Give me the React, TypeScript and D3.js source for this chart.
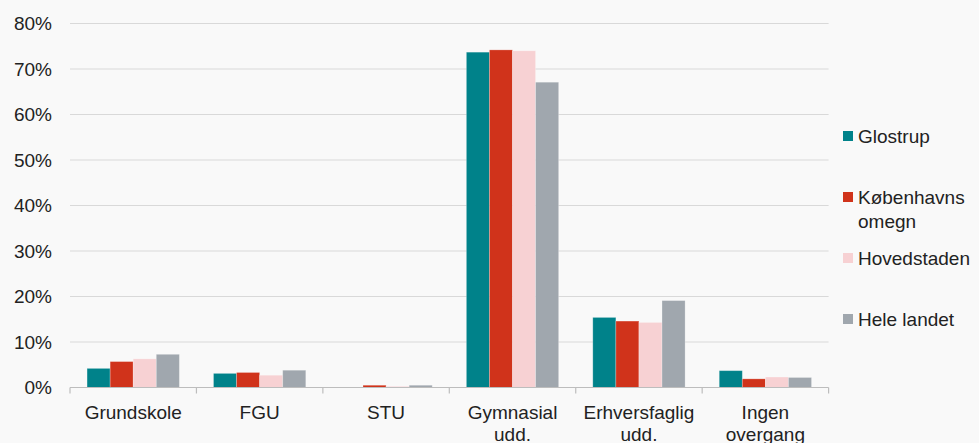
import React from "react";
import * as d3 from "d3";

const categories: string[][] = [
  ["Grundskole"],
  ["FGU"],
  ["STU"],
  ["Gymnasial", "udd."],
  ["Erhversfaglig", "udd."],
  ["Ingen", "overgang"],
];
const seriesNames: string[][] = [["Glostrup"], ["Københavns", "omegn"], ["Hovedstaden"], ["Hele landet"]];
const seriesColors = ["#00828A", "#D0331B", "#F7D1D3", "#A0A7AE"];
const glostrup = [4.2, 3.1, 0, 73.7, 15.4, 3.7];
const kbhOmegn = [5.7, 3.3, 0.5, 74.2, 14.6, 1.9];
const hovedstaden = [6.3, 2.7, 0.25, 74.0, 14.3, 2.3];
const heleLandet = [7.3, 3.8, 0.5, 67.1, 19.1, 2.2];
const yTicks = [0, 10, 20, 30, 40, 50, 60, 70, 80];

const series = [glostrup, kbhOmegn, hovedstaden, heleLandet];

export default function App() {
  const W = 979, H = 443;
  const left = 70, right = 828.6, top = 23.5, bottom = 387.5;
  const x = d3.scaleBand<number>().domain(d3.range(categories.length)).range([left, right]).paddingInner(0).paddingOuter(0);
  const inner = d3.scaleBand<number>().domain(d3.range(series.length)).range([0, x.bandwidth()]).paddingInner(0).paddingOuter(0.74);
  const y = d3.scaleLinear().domain([0, 80]).range([bottom, top]);
  const font = "'Liberation Sans', Arial, sans-serif";
  const fs = 19;
  const legendY = [136, 197, 258, 319];
  return (
    <svg width={W} height={H} style={{ position: "absolute", left: 0, top: 0, display: "block" }} fontFamily={font}>
      <rect x={0} y={0} width={W} height={H} fill="#F9F9F9" />
      {yTicks.map((t) => (
        <g key={t}>
          {t > 0 && <line x1={left} x2={right} y1={y(t)} y2={y(t)} stroke="#D9D9D9" strokeWidth={1.2} />}
          <text x={52} y={y(t)} dy="0.35em" textAnchor="end" fontSize={fs} fill="#222">{t}%</text>
        </g>
      ))}
      {series.map((vals, si) =>
        vals.map((v, ci) => (
          <rect
            key={si + "-" + ci}
            x={(x(ci) as number) + (inner(si) as number)}
            y={y(v)}
            width={inner.bandwidth()}
            height={bottom - y(v)}
            fill={seriesColors[si]}
            stroke="rgba(255,255,255,0.3)"
            strokeWidth={0.8}
          />
        ))
      )}
      <line x1={left} x2={right} y1={bottom} y2={bottom} stroke="#BDBDBD" strokeWidth={1.2} />
      {d3.range(categories.length + 1).map((i) => {
        const xx = left + i * x.step();
        return <line key={i} x1={xx} x2={xx} y1={bottom} y2={bottom + 6} stroke="#BDBDBD" strokeWidth={1.2} />;
      })}
      {categories.map((lines, ci) => (
        <text key={ci} x={(x(ci) as number) + x.bandwidth() / 2} y={418.5} textAnchor="middle" fontSize={fs} fill="#222">
          {lines.map((l, li) => (
            <tspan key={li} x={(x(ci) as number) + x.bandwidth() / 2} dy={li === 0 ? 0 : 22}>{l}</tspan>
          ))}
        </text>
      ))}
      {seriesNames.map((lines, si) => (
        <g key={si}>
          <rect x={843} y={legendY[si] - 5} width={10} height={10} fill={seriesColors[si]} />
          <text x={858} y={legendY[si]} fontSize={fs} fill="#222">
            {lines.map((l, li) => (
              <tspan key={li} x={858} dy={li === 0 ? "0.35em" : 24}>{l}</tspan>
            ))}
          </text>
        </g>
      ))}
    </svg>
  );
}
